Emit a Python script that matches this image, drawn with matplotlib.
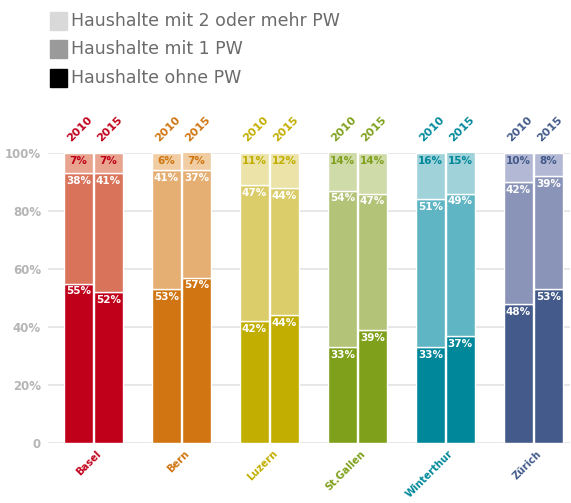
import numpy as np
import matplotlib
matplotlib.use('Agg')
from matplotlib import pyplot as plt
from matplotlib.patches import Rectangle

cities = ['Basel', 'Bern', 'Luzern', 'St.Gallen', 'Winterthur', 'Zürich']
years = ['2010', '2015']

# Anteile je Stadt: [2010, 2015]
ohne_pw = [[55, 52], [53, 57], [42, 44], [33, 39], [33, 37], [48, 53]]
mit_1_pw = [[38, 41], [41, 37], [47, 44], [54, 47], [51, 49], [42, 39]]
mit_2_pw = [[7, 7], [6, 7], [11, 12], [14, 14], [16, 15], [10, 8]]

legend_labels = ['Haushalte mit 2 oder mehr PW', 'Haushalte mit 1 PW', 'Haushalte ohne PW']
legend_colors = ['#d9d9d9', '#9a9a9a', '#000000']

# dark, mid, light per city
city_colors = [
    ('#c0001a', '#d9735a', '#e8a48e'),
    ('#d07511', '#e5ae72', '#f0cda3'),
    ('#c2ae00', '#dacd6a', '#ebe3a7'),
    ('#7fa01a', '#b3c377', '#d0dbaa'),
    ('#00889a', '#5fb5c3', '#a0d2da'),
    ('#435a8a', '#8a94b8', '#b3b9d4'),
]

fig = plt.figure(figsize=(5.71, 5.03), dpi=100)
ax = fig.add_axes([0.084, 0.119, 0.914, 0.577])

width = 0.33
offs = [-0.17, 0.17]
font = 'DejaVu Sans'

for i, city in enumerate(cities):
    dark, mid, light = city_colors[i]
    for j in range(2):
        x = i + offs[j]
        v0 = ohne_pw[i][j]
        v1 = mit_1_pw[i][j]
        v2 = mit_2_pw[i][j]
        ax.bar(x, v0, width, color=dark, edgecolor='white', linewidth=1, zorder=3)
        ax.bar(x, v1, width, bottom=v0, color=mid, edgecolor='white', linewidth=1, zorder=3)
        ax.bar(x, v2, width, bottom=v0 + v1, color=light, edgecolor='white', linewidth=1, zorder=3)
        for bottom, val, col in [(0, v0, 'white'), (v0, v1, 'white'), (v0 + v1, v2, dark)]:
            ax.annotate('%d%%' % val, (x, min(bottom + val, 100)), xytext=(0, -2),
                        textcoords='offset points', ha='center', va='top',
                        color=col, fontsize=7.5, fontweight='bold', family=font, zorder=4)
        ax.annotate(years[j], (x, 100), xytext=(-4, 7), textcoords='offset points',
                    ha='left', va='bottom', rotation=45, rotation_mode='anchor',
                    color=dark, fontsize=8, fontweight='bold', family=font,
                    annotation_clip=False)
    ax.annotate(city, (i, 0), xytext=(2, -4), textcoords='offset points',
                ha='right', va='top', rotation=45, rotation_mode='anchor',
                color=dark, fontsize=7.2, fontweight='bold', family=font,
                annotation_clip=False)

ax.set_xlim(-0.517, 5.415)
ax.set_ylim(0, 100)
ax.set_yticks([0, 20, 40, 60, 80, 100])
ax.set_yticklabels(['0', '20%', '40%', '60%', '80%', '100%'], color='#b5b5b5',
                   fontsize=8.5, fontweight='bold', family=font)
ax.set_xticks([])
ax.tick_params(axis='y', length=0, pad=5)
ax.grid(axis='y', color='#e3e3e3', linewidth=1.2, zorder=0)
for s in ax.spines.values():
    s.set_visible(False)

# legend
ys = [0.958, 0.902, 0.845]
for k in range(3):
    fig.patches.append(Rectangle((0.087, ys[k] - 0.018), 0.031, 0.036, color=legend_colors[k],
                                 transform=fig.transFigure, figure=fig))
    fig.text(0.125, ys[k], legend_labels[k], color='#6b6b6b', fontsize=12.5,
             va='center', ha='left', family=font)

fig.savefig('out.png', dpi=100)
